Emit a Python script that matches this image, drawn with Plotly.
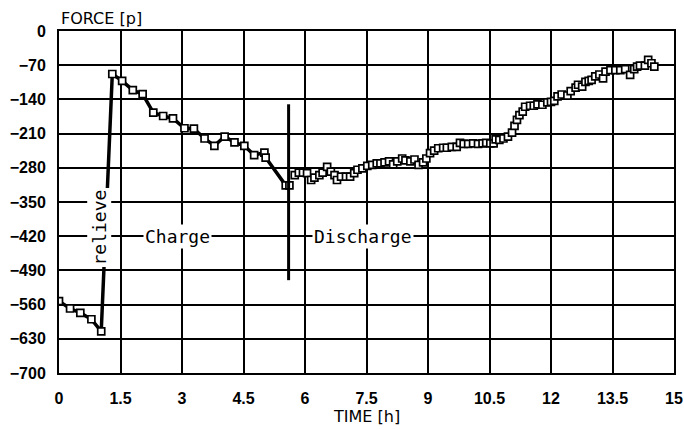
import plotly.graph_objects as go

# ---- data ----
pre_t = [0.0, 0.27, 0.52, 0.79, 1.03]
pre_f = [-553, -568, -577, -590, -615]

charge_t = [1.30, 1.54, 1.80, 2.04, 2.30, 2.54, 2.78, 3.06, 3.29, 3.55, 3.79,
            4.04, 4.28, 4.52, 4.76, 5.01, 5.04, 5.53, 5.62]
charge_f = [-88, -102, -121, -129, -167, -174, -179, -199, -200, -220, -235,
            -216, -228, -235, -254, -249, -259, -316, -316]

dis_t = [5.75, 5.85, 5.95, 6.05, 6.15, 6.23, 6.35, 6.43, 6.54, 6.63, 6.72, 6.78,
         6.88, 7.00, 7.10, 7.20, 7.28, 7.40, 7.52, 7.64, 7.75, 7.84, 7.94, 8.05,
         8.15, 8.25, 8.37, 8.45, 8.57, 8.67, 8.77, 8.88, 8.96, 9.05, 9.15, 9.25,
         9.37, 9.46, 9.58, 9.70, 9.78, 9.87, 9.98, 10.10, 10.22, 10.33, 10.42,
         10.52, 10.60, 10.65, 10.74, 10.84, 10.95, 11.05, 11.11, 11.17, 11.23,
         11.31, 11.37, 11.49, 11.58, 11.67, 11.79, 11.91, 12.00, 12.08, 12.16,
         12.26, 12.40, 12.48, 12.60, 12.66, 12.76, 12.84, 12.92, 12.99, 13.08,
         13.18, 13.27, 13.33, 13.45, 13.57, 13.69, 13.81, 13.93, 14.03, 14.10,
         14.17, 14.29, 14.37, 14.45, 14.52]
dis_f = [-295, -290, -290, -291, -305, -300, -295, -290, -278, -288, -295, -305,
         -298, -298, -298, -291, -284, -281, -276, -274, -271, -271, -269, -267,
         -273, -267, -261, -265, -267, -263, -274, -269, -261, -250, -245, -240,
         -239, -239, -237, -237, -229, -231, -231, -230, -231, -230, -229,
         -230, -230, -222, -223, -220, -216, -208, -194, -182, -172,
         -165, -155, -153, -153, -150, -151, -146, -145, -143, -134,
         -130, -132, -123, -116, -110, -114, -104, -102, -100, -93,
         -89, -97, -83, -80, -80, -80, -78, -90, -78, -73,
         -71, -71, -59, -66, -73]

divider_t = [5.6, 5.6]
divider_f = [-150, -510]

x_ticks = [0, 1.5, 3, 4.5, 6, 7.5, 9, 10.5, 12, 13.5, 15]
x_ticklabels = ["0", "1.5", "3", "4.5", "6", "7.5", "9", "10.5", "12", "13.5", "15"]
y_ticks = [0, -70, -140, -210, -280, -350, -420, -490, -560, -630, -700]
y_ticklabels = ["0", "\u221270", "\u2212140", "\u2212210", "\u2212280", "\u2212350",
                "\u2212420", "\u2212490", "\u2212560", "\u2212630", "\u2212700"]

labels = [
    {"text": "relieve", "t": 0.99, "f": -403, "angle": -90},
    {"text": "Charge", "t": 2.88, "f": -420, "angle": 0},
    {"text": "Discharge", "t": 7.42, "f": -420, "angle": 0},
]

# ---- figure ----
fig = go.Figure()

marker_style = dict(symbol="square", size=7, color="white",
                    line=dict(color="black", width=1.7))

fig.add_trace(go.Scatter(
    x=pre_t + charge_t, y=pre_f + charge_f, mode="lines+markers",
    line=dict(color="black", width=3.5), marker=marker_style,
    hoverinfo="skip", showlegend=False))

fig.add_trace(go.Scatter(
    x=divider_t, y=divider_f, mode="lines",
    line=dict(color="black", width=3), hoverinfo="skip", showlegend=False))

fig.add_trace(go.Scatter(
    x=dis_t, y=dis_f, mode="markers", marker=marker_style,
    hoverinfo="skip", showlegend=False))

for lab in labels:
    fig.add_annotation(
        x=lab["t"], y=lab["f"], xref="x", yref="y", text=lab["text"],
        textangle=lab["angle"], showarrow=False, bgcolor="white",
        font=dict(family="DejaVu Sans Mono", size=18, color="black"),
        borderpad=1)

fig.add_annotation(
    x=0, y=1, xref="paper", yref="paper", text="FORCE [p]",
    xanchor="left", yanchor="bottom", yshift=1, showarrow=False,
    font=dict(family="DejaVu Sans", size=16, color="black"))

fig.add_annotation(
    x=7.5, y=0, xref="x", yref="paper", text="TIME [h]",
    xanchor="center", yanchor="top", yshift=-32, showarrow=False,
    font=dict(family="DejaVu Sans", size=16, color="black"))

axis_common = dict(
    showgrid=True, gridcolor="black", gridwidth=1.5,
    showline=True, linecolor="black", linewidth=2, mirror=True,
    zeroline=False, ticks="", automargin=False,
    tickfont=dict(family="Liberation Sans, Arial, sans-serif", size=16,
                  color="black", weight="bold"),
)

fig.update_xaxes(range=[0, 15], tickvals=x_ticks, ticktext=x_ticklabels,
                 ticklabelstandoff=10, ticklabeloverflow="allow", **axis_common)
fig.update_yaxes(range=[-700, 0], tickvals=y_ticks, ticktext=y_ticklabels,
                 ticklabelstandoff=8, **axis_common)

fig.update_layout(
    width=684, height=430,
    margin=dict(l=59, r=10, t=31, b=57, autoexpand=False),
    paper_bgcolor="white", plot_bgcolor="white",
    showlegend=False,
)

fig.write_html("out.html")
